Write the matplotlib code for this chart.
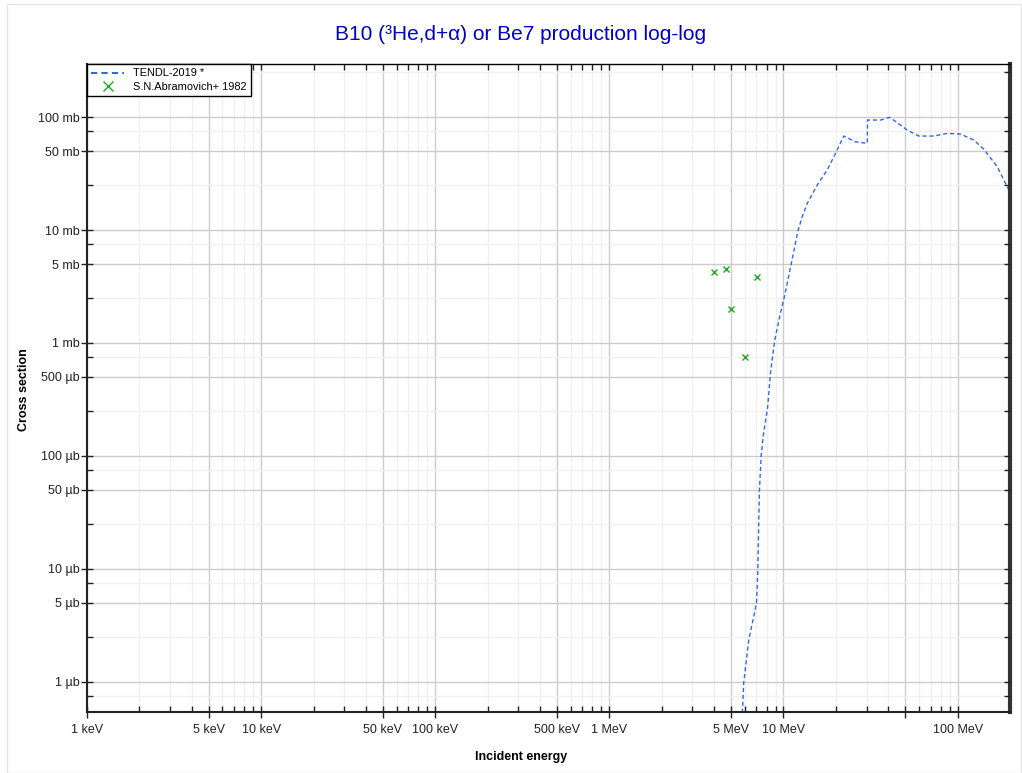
import numpy as np
import matplotlib
matplotlib.use("Agg")
import matplotlib.pyplot as plt
from matplotlib.ticker import FixedLocator, NullFormatter
from matplotlib.patches import Rectangle

plt.rcParams['font.family'] = ['Liberation Sans', 'DejaVu Sans']

# === data (energy in MeV, cross section in mb) ===
tendl_e = [5.75, 5.91, 6.32, 7.0, 7.12, 7.21, 7.28, 7.44, 7.64, 8.12, 8.42, 8.91,
           9.61, 10.13, 11.2, 12.08, 12.81, 13.69, 15.62, 17.83, 19.9, 22.2, 25.9,
           30.3, 30.4, 36.1, 40.8, 51.4, 59.9, 73.1, 87.3, 104, 124, 141.6, 169, 201.7]
tendl_xs = [4e-4, 9.74e-4, 2.35e-3, 4.97e-3, 9.2e-3, 0.0255, 0.05, 0.0986, 0.148,
            0.273, 0.543, 1.06, 1.84, 2.57, 5.43, 9.66, 13.1, 17.2, 25.0, 34.0,
            47.7, 67.9, 60.4, 58.5, 94.1, 94.1, 99.4, 76.7, 67.9, 67.9, 71.7, 70.7,
            62.6, 51.8, 36.3, 21.0]

abr_e = [4.01, 4.70, 5.01, 5.99, 7.06]
abr_xs = [4.22, 4.52, 2.0, 0.747, 3.81]

x_ticks = [1e-3, 5e-3, 1e-2, 5e-2, 1e-1, 5e-1, 1, 5, 10, 50, 100]
x_labels = ["1 keV", "5 keV", "10 keV", "50 keV", "100 keV", "500 keV",
            "1 MeV", "5 MeV", "10 MeV", "", "100 MeV"]
y_ticks = [1e-3, 5e-3, 1e-2, 5e-2, 1e-1, 5e-1, 1, 5, 10, 50, 100]
y_labels = ["1 µb", "5 µb", "10 µb", "50 µb", "100 µb", "500 µb",
            "1 mb", "5 mb", "10 mb", "50 mb", "100 mb"]

decades = [10.0 ** k for k in range(-4, 3)]
x_minor = [m * d for d in decades for m in (2, 3, 4, 6, 7, 8, 9)]
y_minor = [m * d for d in decades for m in (2.5, 7.5)]

# === figure ===
fig = plt.figure(figsize=(10.22, 7.73), dpi=100)
fig.patches.append(Rectangle((7 / 1022, 0), 1 - 8 / 1022, 1 - 4 / 773,
                             transform=fig.transFigure, fill=False,
                             edgecolor="#e6e6e6", linewidth=1))
rect = [87 / 1022, 1 - 712 / 773, (1010 - 87) / 1022, (712 - 64) / 773]
ax = fig.add_axes(rect)
# overlay axes only for the inward ticks on top and right
ax2 = fig.add_axes(rect, facecolor="none", zorder=3)

for a in (ax, ax2):
    a.set_xscale("log")
    a.set_yscale("log")
    a.set_xlim(1e-3, 200)
    a.set_ylim(5.4e-4, 295)
    a.xaxis.set_major_locator(FixedLocator(x_ticks))
    a.xaxis.set_minor_locator(FixedLocator(x_minor))
    a.yaxis.set_major_locator(FixedLocator(y_ticks))
    a.yaxis.set_minor_locator(FixedLocator(y_minor))
    a.xaxis.set_minor_formatter(NullFormatter())
    a.yaxis.set_minor_formatter(NullFormatter())

ax.set_xticklabels(x_labels)
ax.set_yticklabels(y_labels)
ax.grid(True, which="major", color="#cccccc", linewidth=1)
ax.grid(True, which="minor", color="#f0f0f0", linewidth=1)
ax.set_axisbelow(True)

ax.tick_params(which="major", direction="inout", length=9, width=1,
               labelsize=9, colors="#222222")
ax.tick_params(which="minor", direction="in", length=4, width=1, colors="#222222")
ax.tick_params(axis="x", which="major", pad=4)
ax.tick_params(axis="y", which="major", pad=1)

ax2.tick_params(which="both", direction="in", length=4, width=1, colors="#222222",
                bottom=False, left=False, top=True, right=True,
                labelbottom=False, labelleft=False)
for s in ax2.spines.values():
    s.set_visible(False)

for s in ["left", "bottom"]:
    ax.spines[s].set_linewidth(1.5)
    ax.spines[s].set_color("#222222")
ax.spines["top"].set_linewidth(1)
ax.spines["right"].set_linewidth(3)
ax.spines["right"].set_color("#333333")

# === plot ===
l1, = ax.plot(tendl_e, tendl_xs, color="#3366ee", linestyle=(0, (3, 2)),
              linewidth=1, label="TENDL-2019 *")
l2, = ax.plot(abr_e, abr_xs, linestyle="none", marker="x", color="#22aa22",
              markersize=5, markeredgewidth=1, label="S.N.Abramovich+ 1982")

leg = fig.legend([l1, l2], [l1.get_label(), l2.get_label()], loc="upper left",
                 bbox_to_anchor=(rect[0], rect[1] + rect[3]),
                 bbox_transform=fig.transFigure, borderaxespad=0,
                 fancybox=False, edgecolor="black", fontsize=7.9,
                 handlelength=3, framealpha=1, borderpad=0.4, labelspacing=0.3,
                 markerscale=1.4)
leg.set_zorder(10)
leg.get_frame().set_linewidth(1)
leg.get_lines()[0].set_linestyle((0, (3, 2)))
leg.get_lines()[0].set_linewidth(1.5)

fig.text(521 / 1022, 1 - 35 / 773, "B10 (³He,d+α) or Be7 production log-log",
         ha="center", va="center", fontsize=15, color="#0000cc")
fig.text(521 / 1022, 1 - 757 / 773, "Incident energy", ha="center", va="center",
         fontsize=9, fontweight="bold")
fig.text(24 / 1022, 1 - 390 / 773, "Cross section", ha="center", va="center",
         rotation=90, fontsize=9, fontweight="bold")

fig.savefig("out.png", dpi=100)
